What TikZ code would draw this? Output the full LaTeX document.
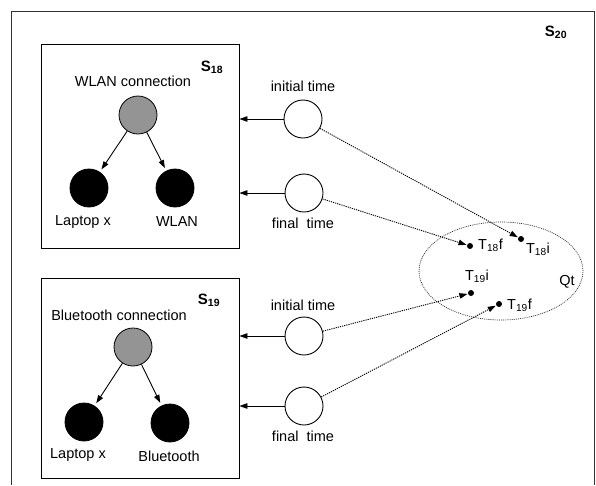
\documentclass[tikz,border=0pt]{standalone}
\usepackage{fontspec}
\setmainfont{Liberation Sans}
\usetikzlibrary{arrows.meta}
\begin{document}
\begin{tikzpicture}[x=1pt,y=-1pt,
  lbl/.style={font=\fontsize{14.5}{16}\selectfont, inner sep=0pt},
  slbl/.style={font=\fontsize{15}{17}\selectfont\bfseries, inner sep=0pt},
  box/.style={draw, line width=0.9pt, inner sep=0pt},
  graynode/.style={circle, draw, line width=0.8pt, fill=black!42, minimum size=38pt, inner sep=0pt},
  blacknode/.style={circle, draw, line width=0.8pt, fill=black, minimum size=38pt, inner sep=0pt},
  timenode/.style={circle, draw, line width=0.9pt, fill=white, minimum size=38pt, inner sep=0pt},
  dotnode/.style={circle, fill=black, minimum size=6pt, inner sep=0pt},
  arr/.style={line width=0.9pt, -{Triangle[length=8pt,width=5.5pt]}},
  darr/.style={line width=0.9pt, dash pattern=on 1.2pt off 1pt, -{Triangle[length=8pt,width=5.5pt]}, shorten >=0.5pt},
]
\useasboundingbox (0,0) rectangle (596,485);
% outer frame (open at bottom)
\draw[line width=0.9pt, black!80] (11,485) -- (11,11) -- (594.5,11) -- (594.5,485);
\node[slbl] (s20) at (556,32) {S\textsubscript{20}};

% S18 box
\node[box, minimum width=198pt, minimum height=204pt] (s18) at (140,146) {};
\node[slbl] (s18l) at (212,67) {S\textsubscript{18}};
\node[lbl] (wlanconn) at (133,81) {WLAN connection};
\node[graynode] (g18) at (138,115) {};
\node[blacknode] (lap18) at (89,188) {};
\node[blacknode] (wlan18) at (175,188) {};
\node[lbl] (lap18l) at (83,222) {Laptop x};
\node[lbl] (wlan18l) at (177,222) {WLAN};
\draw[arr, shorten >=3pt] (g18) -- (lap18);
\draw[arr, shorten >=3pt] (g18) -- (wlan18);

% S19 box
\node[box, minimum width=198pt, minimum height=200pt] (s19) at (140,378) {};
\node[slbl] (s19l) at (209,300) {S\textsubscript{19}};
\node[lbl] (btconn) at (119,315) {Bluetooth connection};
\node[graynode] (g19) at (133,347) {};
\node[blacknode] (lap19) at (84,422) {};
\node[blacknode] (bt19) at (170,423) {};
\node[lbl] (lap19l) at (78,455) {Laptop x};
\node[lbl] (bt19l) at (169,456) {Bluetooth};
\draw[arr, shorten >=3pt] (g19) -- (lap19);
\draw[arr, shorten >=3pt] (g19) -- (bt19);

% time nodes
\node[timenode] (i18) at (303,119) {};
\node[timenode] (f18) at (304,193) {};
\node[timenode] (i19) at (304,336) {};
\node[timenode] (f19) at (304,406) {};
\node[lbl] (i18l) at (303,86) {initial time};
\node[lbl] (f18l) at (303,223) {final\ \ time};
\node[lbl] (i19l) at (303,305) {initial time};
\node[lbl] (f19l) at (303,436) {final\ \ time};
\draw[arr] (i18) -- (i18 -| s18.east);
\draw[arr] (f18) -- (f18 -| s18.east);
\draw[arr] (i19) -- (i19 -| s19.east);
\draw[arr] (f19) -- (f19 -| s19.east);

% Qt ellipse
\draw[line width=0.7pt, black!85, dash pattern=on 0.9pt off 1pt] (501,271) ellipse [x radius=82pt, y radius=49pt];
\node[lbl] (qt) at (567,282) {Qt};
\node[dotnode] (t18f) at (470,246) {};
\node[dotnode] (t18i) at (521,239) {};
\node[dotnode] (t19i) at (471,293) {};
\node[dotnode] (t19f) at (499,304) {};
\node[lbl, anchor=west] (t18fl) at (478,245) {T\textsubscript{18}f};
\node[lbl] (t18il) at (538,249) {T\textsubscript{18}i};
\node[lbl] (t19il) at (477,276) {T\textsubscript{19}i};
\node[lbl, anchor=west] (t19fl) at (507,305) {T\textsubscript{19}f};

\draw[darr] (i18) -- (t18i);
\draw[darr] (f18) -- (t18f);
\draw[darr] (i19) -- (t19i);
\draw[darr] (f19) -- (t19f);
\end{tikzpicture}
\end{document}
